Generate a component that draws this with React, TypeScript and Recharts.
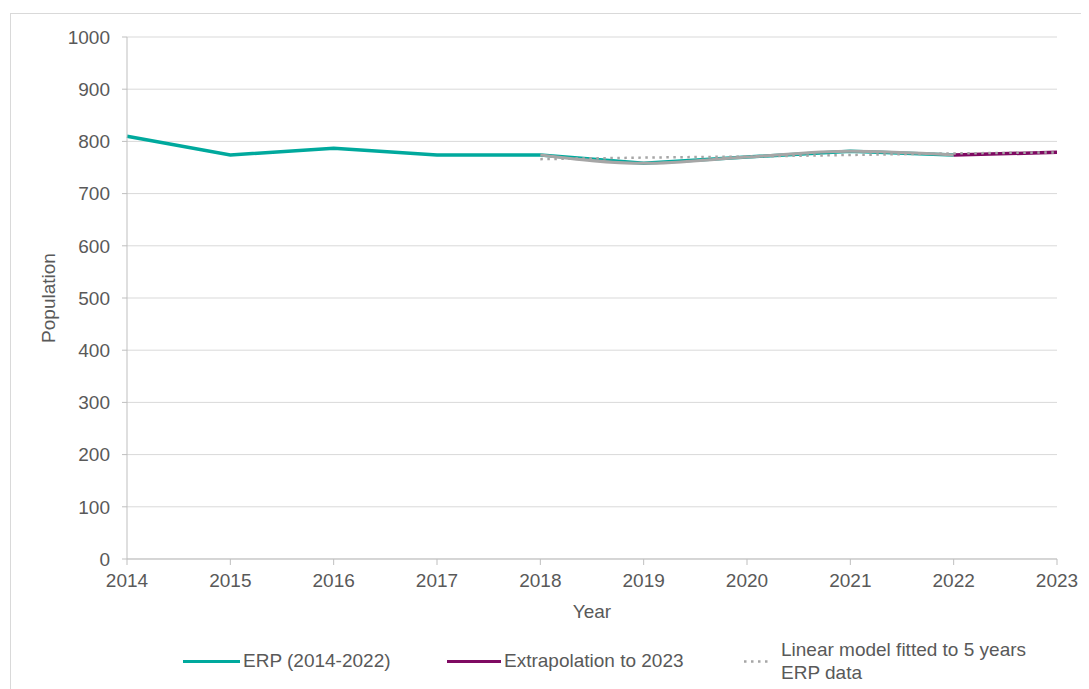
import React from 'react';
import { LineChart, Line, XAxis, YAxis, CartesianGrid, Legend, Label } from 'recharts';

const years = [2014, 2015, 2016, 2017, 2018, 2019, 2020, 2021, 2022, 2023];
const erp = [810, 774, 787, 774, 774, 758, 770, 781, 774, null];
const erpRecent = [null, null, null, null, 774, 758, 770, 781, 774, null];
const extrapolation = [null, null, null, null, null, null, null, null, 774, 779];
const linearFit = [null, null, null, null, 766, 769, 771, 774, 777, 779];
const yTicks = [0, 100, 200, 300, 400, 500, 600, 700, 800, 900, 1000];

const data = years.map((y, i) => ({
  year: y,
  erp: erp[i],
  erpRecent: erpRecent[i],
  extrapolation: extrapolation[i],
  linearFit: linearFit[i],
}));

const FONT = '"Liberation Sans", Arial, sans-serif';
const TXT = '#595959';
const TEAL = '#00A99D';
const PURPLE = '#7F0A62';
const GRAY = '#A6A6A6';

const LegendContent = () => (
  <div style={{ position: 'relative', height: 54, width: 1081, fontFamily: FONT, fontSize: 19, color: TXT }}>
    <div style={{ position: 'absolute', left: 175, top: 25, width: 57, height: 3, background: TEAL }} />
    <div style={{ position: 'absolute', left: 235, top: 15, lineHeight: '22px', whiteSpace: 'nowrap' }}>ERP (2014-2022)</div>
    <div style={{ position: 'absolute', left: 439, top: 25, width: 54, height: 3, background: PURPLE }} />
    <div style={{ position: 'absolute', left: 496, top: 15, lineHeight: '22px', whiteSpace: 'nowrap' }}>Extrapolation to 2023</div>
    <svg style={{ position: 'absolute', left: 735, top: 24 }} width={26} height={5}>
      <line x1={1} y1={2.5} x2={25} y2={2.5} stroke={GRAY} strokeWidth={2.5} strokeDasharray="2.5 4.5" />
    </svg>
    <div style={{ position: 'absolute', left: 773, top: 3, lineHeight: '23px', whiteSpace: 'nowrap' }}>
      Linear model fitted to 5 years<br />ERP data
    </div>
  </div>
);

export default function App() {
  return (
    <div style={{ position: 'relative', width: 1081, height: 681, overflow: 'hidden' }}>
      <div style={{ position: 'absolute', left: 2, top: 5, width: 1100, height: 700, border: '1px solid #D9D9D9', boxSizing: 'border-box' }} />
      <div style={{ position: 'absolute', left: 0, top: 0 }}>
        <LineChart width={1081} height={681} data={data} margin={{ top: 29, right: 32, left: 0, bottom: 0 }}>
          <CartesianGrid vertical={false} stroke="#D9D9D9" strokeWidth={1} />
          <XAxis
            dataKey="year"
            type="number"
            domain={[2014, 2023]}
            ticks={years}
            interval={0}
            height={76}
            axisLine={{ stroke: '#BFBFBF' }}
            tickLine={{ stroke: '#BFBFBF' }}
            tickSize={6}
            tickMargin={9}
            tick={{ fill: TXT, fontSize: 19, fontFamily: FONT }}
          >
            <Label
              content={({ viewBox }: any) => (
                <text x={viewBox.x + viewBox.width / 2} y={610} textAnchor="middle" fill={TXT} fontSize={19} fontFamily={FONT}>
                  Year
                </text>
              )}
            />
          </XAxis>
          <YAxis
            type="number"
            domain={[0, 1000]}
            ticks={yTicks}
            interval={0}
            width={119}
            axisLine={{ stroke: '#BFBFBF' }}
            tickLine={{ stroke: '#BFBFBF' }}
            tickSize={5}
            tickMargin={12}
            tick={{ fill: TXT, fontSize: 19, fontFamily: FONT }}
          >
            <Label
              content={({ viewBox }: any) => {
                const cx = 40;
                const cy = viewBox.y + viewBox.height / 2;
                return (
                  <text x={cx} y={cy} transform={`rotate(-90 ${cx} ${cy})`} textAnchor="middle" dominantBaseline="central" fill={TXT} fontSize={19} fontFamily={FONT}>
                    Population
                  </text>
                );
              }}
            />
          </YAxis>
          <Legend verticalAlign="bottom" align="left" wrapperStyle={{ left: 0, width: 1081 }} content={() => <LegendContent />} />
          <Line dataKey="erp" name="ERP (2014-2022)" stroke={TEAL} strokeWidth={3.5} dot={false} isAnimationActive={false} />
          <Line dataKey="erpRecent" type="monotone" stroke={GRAY} strokeWidth={3} dot={false} legendType="none" isAnimationActive={false} />
          <Line dataKey="extrapolation" name="Extrapolation to 2023" stroke={PURPLE} strokeWidth={3.5} dot={false} isAnimationActive={false} />
          <Line dataKey="linearFit" name="Linear model fitted to 5 years ERP data" stroke={GRAY} strokeWidth={2.5} strokeDasharray="2.5 4.5" dot={false} isAnimationActive={false} />
        </LineChart>
      </div>
    </div>
  );
}
